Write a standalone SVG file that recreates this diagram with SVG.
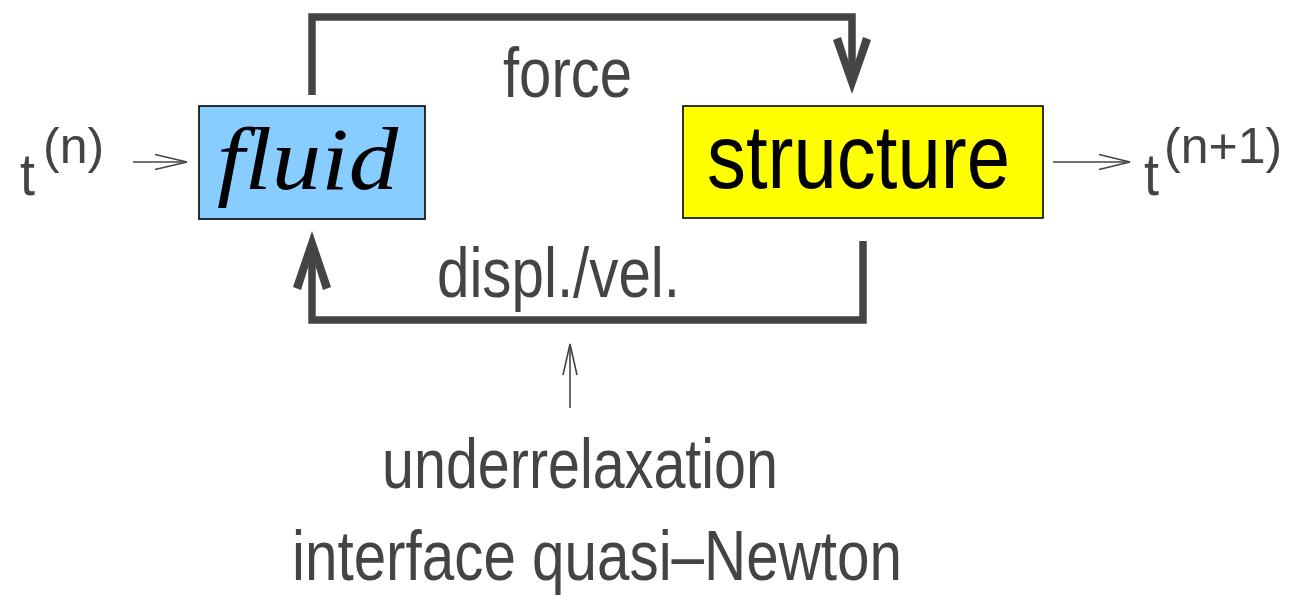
<svg xmlns="http://www.w3.org/2000/svg" width="1289" height="597" viewBox="0 0 1289 597">
<style>
.lbl{font-family:"Liberation Sans",Arial,sans-serif;fill:#444;font-size:70px}
.t{font-family:"Liberation Sans",Arial,sans-serif;fill:#444;font-size:60px}
.sup{font-family:"Liberation Sans",Arial,sans-serif;fill:#444;font-size:50px}
.thick{fill:none;stroke:#444;stroke-width:7.5;stroke-linejoin:miter;stroke-linecap:butt}
.thin{fill:none;stroke:#444;stroke-width:1.6}
.head{fill:#444}
.box{stroke:#000;stroke-width:1.6}
</style>
<rect width="1289" height="597" fill="#fff"/>
<g id="connectors">
  <polyline class="thick" points="312,95 312,17 852,17 852,80"/>
  <polygon class="head" points="833,40 852,94 871,40 863,37 852,72 841,37"/>
  <polyline class="thick" points="863,241 863,320 312,320 312,245"/>
  <polygon class="head" points="293,287 312,231 331,287 323,290 312,255 301,290"/>
  <line class="thin" x1="570" y1="408" x2="570" y2="345"/>
  <polyline class="thin" points="563,375 570,344 577,375"/>
  <line class="thin" x1="133" y1="162" x2="187" y2="162"/>
  <polyline class="thin" points="155,154.5 187,162 155,169.5"/>
  <line class="thin" x1="1053" y1="162" x2="1130" y2="162"/>
  <polyline class="thin" points="1099,154.5 1130,162 1099,169.5"/>
</g>
<g id="fluid">
  <rect class="box" x="199" y="106" width="226" height="113" fill="#88CDFF"/>
  <text x="217" y="189" font-family="'Liberation Serif','Times New Roman',serif" font-style="italic" font-size="88" fill="#000" textLength="181" lengthAdjust="spacingAndGlyphs">fluid</text>
</g>
<g id="structure">
  <rect class="box" x="683" y="106" width="360" height="112" fill="#FFFF00"/>
  <text x="707" y="188" font-family="'Liberation Sans',Arial,sans-serif" font-size="90" fill="#000" textLength="303" lengthAdjust="spacingAndGlyphs">structure</text>
</g>
<g id="labels">
  <text class="lbl" x="503" y="97" textLength="129" lengthAdjust="spacingAndGlyphs">force</text>
  <text class="lbl" x="437" y="297" textLength="243" lengthAdjust="spacingAndGlyphs">displ./vel.</text>
  <text class="lbl" x="382" y="488" textLength="396" lengthAdjust="spacingAndGlyphs">underrelaxation</text>
  <text class="lbl" x="292" y="580" textLength="610" lengthAdjust="spacingAndGlyphs">interface quasi–Newton</text>
</g>
<g id="tn">
  <text class="t" x="20" y="195" textLength="15" lengthAdjust="spacingAndGlyphs">t</text>
  <text class="sup" x="43" y="163">(n)</text>
</g>
<g id="tn1">
  <text class="t" x="1144" y="195" textLength="15" lengthAdjust="spacingAndGlyphs">t</text>
  <text class="sup" x="1164" y="163">(n+1)</text>
</g>
</svg>
